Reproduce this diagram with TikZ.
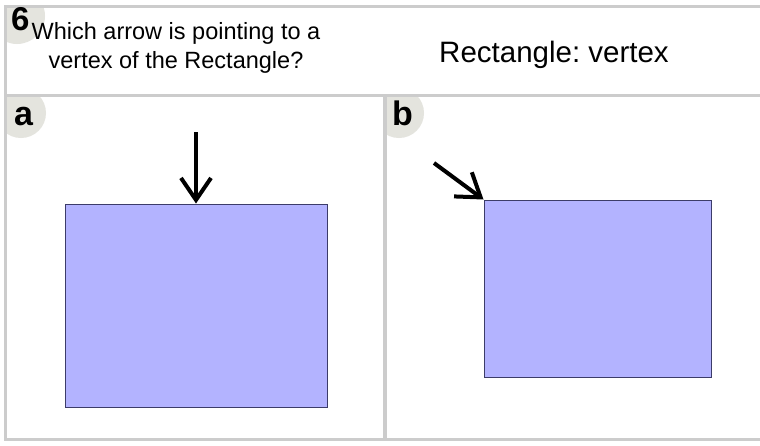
\documentclass[tikz,border=0pt]{standalone}
\usepackage{fontspec}
\setmainfont{Liberation Sans}
\usetikzlibrary{arrows.meta,positioning}
\definecolor{framegray}{RGB}{204,204,204}
\definecolor{tabgray}{RGB}{228,228,222}
\definecolor{shapefill}{RGB}{179,179,255}
\definecolor{shapeedge}{RGB}{60,60,105}
\frenchspacing

\begin{document}
\begin{tikzpicture}[
    x=1pt,
    y=-1pt,
    panel/.style={
      rectangle,
      fill=white,
      inner sep=0pt,
      anchor=north west
    },
    tab/.style={fill=tabgray},
    tablabel/.style={
      font=\bfseries\fontsize{34}{34}\selectfont,
      inner sep=0pt,
      anchor=base west
    },
    shape2d/.style={
      rectangle,
      draw=shapeedge,
      fill=shapefill,
      line width=1pt,
      inner sep=0pt
    },
    pointer/.style={draw, -{Straight Barb[length=22pt, width=30pt]}, line width=4pt},
]
    \useasboundingbox (0,0) rectangle (760,445);
    \fill [framegray] (4,5) rectangle (760,441);

    \node [panel, minimum width=753pt, minimum height=86pt] (header) at (7,8) {};
    \node [panel, minimum width=376pt, minimum height=341pt] (panelA) at (7,97) {};
    \node [panel, minimum width=373pt, minimum height=341pt] (panelB) at (387,97) {};

    % corner tabs
    \begin{scope}
      \clip (header.south west) rectangle (header.north east);
      \fill [tab] (17,16) circle (28pt);
    \end{scope}
    \begin{scope}
      \clip (panelA.south west) rectangle (panelA.north east);
      \fill [tab] (21,113) circle (25pt);
    \end{scope}
    \begin{scope}
      \clip (panelB.south west) rectangle (panelB.north east);
      \fill [tab] (399,113) circle (25pt);
    \end{scope}

    \node [tablabel, font=\bfseries\fontsize{33}{33}\selectfont] (qnum) at (11,30) {6};
    \node [tablabel] (labelA) at (14,125) {a};
    \node [tablabel] (labelB) at (392,125) {b};

    \node [align=center, inner sep=0pt, font=\fontsize{23.5}{29}\selectfont] (question) at (176,47.5) {Which arrow is pointing to a\\vertex of the Rectangle?};
    \node [anchor=base, inner sep=0pt, font=\fontsize{29.5}{30}\selectfont] (topic) at (554,62) {Rectangle: vertex};

    \node [shape2d, minimum width=262pt, minimum height=203pt] (rectA) at (196,305.5) {};
    \node [shape2d, minimum width=227pt, minimum height=177pt] (rectB) at (597.5,288.5) {};

    \coordinate (tailA) at (196,132);
    \coordinate (tailB) at (434,163);
    \path [pointer] (tailA) -- (rectA.north);
    \path [pointer] (tailB) -- (rectB.north west);

\end{tikzpicture}
\end{document}
